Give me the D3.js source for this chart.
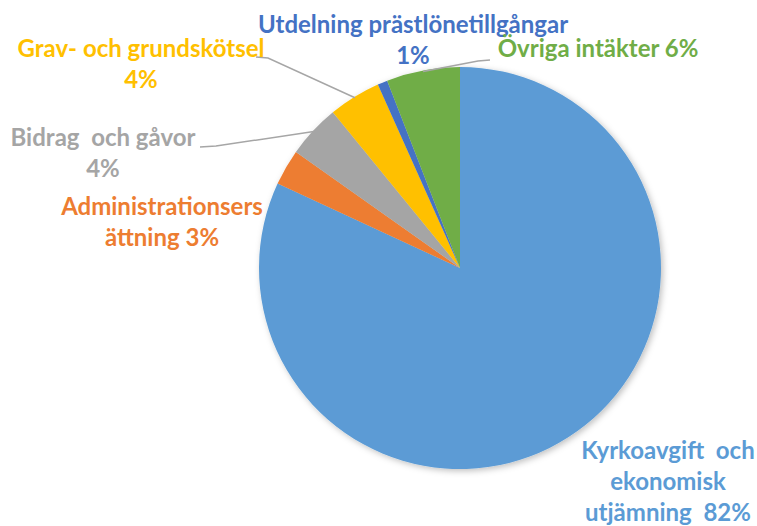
<!DOCTYPE html>
<html>
<head>
<meta charset="utf-8">
<script src="https://cdn.jsdelivr.net/npm/d3@7"></script>
<style>
  body { margin: 0; background: #fff; }
  svg { display: block; }
  text { font-family: Lato, "Open Sans", sans-serif; font-weight: bold; }
</style>
</head>
<body>
<script>
// data, clockwise from 12 o'clock
const categories = ["Kyrkoavgift och ekonomisk utjämning", "Administrationsersättning",
  "Bidrag och gåvor", "Grav- och grundskötsel", "Utdelning prästlönetillgångar", "Övriga intäkter"];
const values = [81.9, 2.9, 4.3, 4.2, 0.8, 5.9];
const pctLabels = ["82%", "3%", "4%", "4%", "1%", "6%"];
const colors = ["#5B9BD5", "#ED7D31", "#A5A5A5", "#FFC000", "#4472C4", "#70AD47"];

// label text lines (as Excel wrapped them)
const labelLines = [
  ["Kyrkoavgift  och", "ekonomisk", "utjämning  82%"],
  ["Administrationsers", "ättning 3%"],
  ["Bidrag  och gåvor", "4%"],
  ["Grav- och grundskötsel", "4%"],
  ["Utdelning prästlönetillgångar", "1%"],
  ["Övriga intäkter 6%"]
];

// layout
const W = 757, H = 526;
const cx = 460, cy = 268, R = 201;
// label anchor: x (center), y (first baseline)
const labelPos = [
  { x: 668, y: 459 },
  { x: 162, y: 215 },
  { x: 103, y: 146 },
  { x: 141, y: 57 },
  { x: 413, y: 33 },
  { x: 598, y: 57 }
];
// leader start points near each label (null = no leader)
const leaders = [null, null, [200, 147, 216, 146], [256, 57, 268, 58], null, [490, 60, 478, 61]];

const svg = d3.select("body").append("svg")
  .attr("width", W).attr("height", H);

const defs = svg.append("defs");
const f = defs.append("filter").attr("id", "shadow")
  .attr("x", "-10%").attr("y", "-10%").attr("width", "120%").attr("height", "120%");
f.append("feDropShadow").attr("dx", 2).attr("dy", 2).attr("stdDeviation", 3)
  .attr("flood-color", "#000").attr("flood-opacity", 0.25);

const pie = d3.pie().sort(null).value(d => d);
const arcs = pie(values);
const arc = d3.arc().innerRadius(0).outerRadius(R);

const g = svg.append("g").attr("transform", `translate(${cx},${cy})`);
g.append("g").attr("filter", "url(#shadow)")
  .selectAll("path")
  .data(arcs)
  .enter().append("path")
    .attr("d", arc)
    .attr("fill", (d, i) => colors[i]);

// leader lines: from label to the slice's outer edge at mid angle
arcs.forEach((d, i) => {
  const l = leaders[i];
  if (!l) return;
  const mid = (d.startAngle + d.endAngle) / 2;
  const ex = cx + Math.sin(mid) * (R - 1);
  const ey = cy - Math.cos(mid) * (R - 1);
  svg.append("polyline")
    .attr("points", [[l[0], l[1]], [l[2], l[3]], [ex, ey]].map(p => p.join(",")).join(" "))
    .attr("fill", "none")
    .attr("stroke", "#A6A6A6")
    .attr("stroke-width", 1.5);
});

// labels
labelLines.forEach((lines, i) => {
  const t = svg.append("text")
    .attr("x", labelPos[i].x)
    .attr("y", labelPos[i].y)
    .attr("text-anchor", "middle")
    .attr("fill", colors[i])
    .attr("font-size", 24)
    .style("white-space", "pre");
  lines.forEach((s, j) => {
    t.append("tspan")
      .attr("x", labelPos[i].x)
      .attr("dy", j === 0 ? 0 : 31)
      .text(s);
  });
});
</script>
</body>
</html>
